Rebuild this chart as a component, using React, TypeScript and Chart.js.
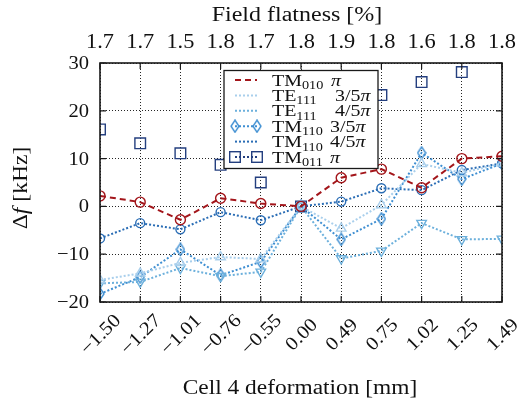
import { useEffect, useRef } from 'react';
import { Chart, registerables } from 'chart.js';
Chart.register(...registerables);

const deformation = ['−1.50', '−1.27', '−1.01', '−0.76', '−0.55', '0.00', '0.49', '0.75', '1.02', '1.25', '1.49'];
const flatness = ['1.7', '1.7', '1.5', '1.8', '1.7', '1.8', '1.9', '1.8', '1.6', '1.8', '1.8'];
const yTicks = [-20, -10, 0, 10, 20, 30];

const tm010Pi = [2.2, 0.9, -2.8, 1.7, 0.6, 0, 6.0, 7.8, 3.9, 10.0, 10.5];
const te111ThreeFifth = [-15.4, -14.0, -11.8, -10.6, -11.0, 0, -4.6, 0.3, 8.9, 7.0, 9.0];
const te111FourFifth = [-16.1, -15.8, -12.9, -14.6, -13.7, 0, -10.9, -9.3, -3.5, -6.9, -6.8];
const tm110ThreeFifth = [-18.3, -14.8, -9.0, -14.4, -11.6, 0, -6.9, -2.6, 11.2, 5.7, 9.0];
const tm110FourFifth = [-6.7, -3.5, -4.8, -1.2, -2.9, 0, 1.0, 3.8, 3.4, 7.6, 9.0];
const tm011Pi = [16.1, 13.2, 11.1, 8.7, 5.0, 0, 19.5, 23.3, 26.0, 28.1, 31.5];

const legendMain = ['TM', 'TE', 'TE', 'TM', 'TM', 'TM'];
const legendSub = ['010', '111', '111', '110', '110', '011'];
const legendFrac = ['', '3/5', '4/5', '3/5', '4/5', ''];

const RED = '#a3161b';
const TE3 = '#a9cfec';
const TE4 = '#6cb0dc';
const TM3 = '#3f8fd2';
const TM4 = '#2a6db5';
const NAVY = '#243f7f';

const SERIF = '"Liberation Serif", "DejaVu Serif", serif';
const SX = 1.14;

function makeDiamond(color: string) {
  const c = document.createElement('canvas');
  c.width = 10;
  c.height = 14;
  const g = c.getContext('2d')!;
  g.strokeStyle = color;
  g.lineWidth = 1.4;
  g.beginPath();
  g.moveTo(5, 1);
  g.lineTo(9, 7);
  g.lineTo(5, 13);
  g.lineTo(1, 7);
  g.closePath();
  g.stroke();
  return c;
}

type Part = { t: string; font: string; dy?: number; x?: number };

function partsWidth(ctx: CanvasRenderingContext2D, parts: Part[], sx: number) {
  let w = 0;
  for (const p of parts) {
    ctx.font = p.font;
    w += ctx.measureText(p.t).width * sx;
  }
  return w;
}

function drawParts(ctx: CanvasRenderingContext2D, parts: Part[], x: number, y: number, sx: number) {
  let cx = x;
  ctx.textAlign = 'left';
  for (const p of parts) {
    if (p.x !== undefined) cx = p.x;
    ctx.font = p.font;
    ctx.save();
    ctx.translate(cx, y + (p.dy || 0));
    ctx.scale(sx, 1);
    ctx.fillText(p.t, 0, 0);
    ctx.restore();
    cx += ctx.measureText(p.t).width * sx;
  }
}

function fillStretched(ctx: CanvasRenderingContext2D, t: string, x: number, y: number, sx: number) {
  ctx.save();
  ctx.translate(x, y);
  ctx.scale(sx, 1);
  ctx.fillText(t, 0, 0);
  ctx.restore();
}

export default function App() {
  const ref = useRef<HTMLCanvasElement | null>(null);

  useEffect(() => {
    if (!ref.current) return;
    const diamond = makeDiamond(TM3);

    const dotted = [2, 2];
    const base = {
      backgroundColor: 'rgba(0,0,0,0)',
      pointBackgroundColor: 'rgba(0,0,0,0)',
      borderWidth: 2,
      pointBorderWidth: 1.4,
      tension: 0,
      clip: 0,
    };

    const styles = [
      { color: RED, dash: [6, 4] },
      { color: TE3, dash: dotted },
      { color: TE4, dash: dotted },
      { color: TM3, dash: dotted, marker: 'diamond' },
      { color: TM4, dash: dotted },
      { color: NAVY, dash: dotted, marker: 'square' },
    ];

    const decor = {
      id: 'decor',
      afterDraw(chart: any) {
        const ctx: CanvasRenderingContext2D = chart.ctx;
        const { left, right, top, bottom } = chart.chartArea;
        const xs = chart.scales.x;
        const ys = chart.scales.y;
        ctx.save();
        // frame
        ctx.strokeStyle = '#1a1a1a';
        ctx.lineWidth = 1.6;
        ctx.setLineDash([]);
        ctx.strokeRect(left, top, right - left, bottom - top);
        ctx.lineWidth = 1.2;
        ctx.beginPath();
        deformation.forEach((_, i) => {
          const x = xs.getPixelForValue(i);
          ctx.moveTo(x, bottom);
          ctx.lineTo(x, bottom - 6);
          ctx.moveTo(x, top);
          ctx.lineTo(x, top + 6);
        });
        yTicks.forEach((v) => {
          const y = ys.getPixelForValue(v);
          ctx.moveTo(left, y);
          ctx.lineTo(left + 6, y);
          ctx.moveTo(right, y);
          ctx.lineTo(right - 6, y);
        });
        ctx.stroke();

        ctx.fillStyle = '#111';
        // y tick labels
        ctx.font = `19px ${SERIF}`;
        ctx.textAlign = 'right';
        ctx.textBaseline = 'middle';
        yTicks.forEach((v) => {
          const y = ys.getPixelForValue(v);
          fillStretched(ctx, v < 0 ? '−' + Math.abs(v) : String(v), left - 11, y + 1, 1.08);
        });
        // top labels
        ctx.font = `20px ${SERIF}`;
        ctx.textAlign = 'center';
        flatness.forEach((t, i) => {
          fillStretched(ctx, t, xs.getPixelForValue(i), 43, 1.12);
        });
        // bottom rotated labels
        ctx.font = `19px ${SERIF}`;
        deformation.forEach((t, i) => {
          const x = xs.getPixelForValue(i);
          ctx.save();
          ctx.translate(x + 1, 335);
          ctx.rotate(-Math.PI / 4);
          ctx.scale(1.1, 1);
          ctx.fillText(t, 0, 0);
          ctx.restore();
        });
        // titles
        ctx.font = `20px ${SERIF}`;
        fillStretched(ctx, 'Field flatness [%]', 297, 16, 1.2);
        fillStretched(ctx, 'Cell 4 deformation [mm]', 300, 389, 1.17);
        ctx.save();
        ctx.translate(22, 188);
        ctx.rotate(-Math.PI / 2);
        const yParts: Part[] = [
          { t: 'Δ', font: `20px ${SERIF}` },
          { t: 'f', font: `italic 20px ${SERIF}` },
          { t: ' [kHz]', font: `20px ${SERIF}` },
        ];
        const yw = partsWidth(ctx, yParts, 1.18);
        drawParts(ctx, yParts, -yw / 2, 0, 1.18);
        ctx.restore();

        // legend
        const bx = 224, by = 70.5, bw = 154, bh = 98;
        ctx.fillStyle = '#fff';
        ctx.fillRect(bx, by, bw, bh);
        ctx.strokeStyle = '#1a1a1a';
        ctx.lineWidth = 1.3;
        ctx.strokeRect(bx, by, bw, bh);
        const fracX = [331, 335, 335, 330, 330, 330];
        styles.forEach((s, i) => {
          const ry = 80 + i * 15.4;
          ctx.strokeStyle = s.color;
          ctx.lineWidth = 2;
          ctx.setLineDash(s.dash);
          ctx.beginPath();
          ctx.moveTo(235, ry);
          ctx.lineTo(257, ry);
          ctx.stroke();
          ctx.setLineDash([]);
          if (s.marker === 'diamond') {
            ctx.drawImage(diamond, 235 - 5, ry - 7);
            ctx.drawImage(diamond, 257 - 5, ry - 7);
          } else if (s.marker === 'square') {
            ctx.lineWidth = 1.4;
            ctx.strokeRect(235 - 5.3, ry - 5.3, 10.6, 10.6);
            ctx.strokeRect(257 - 5.3, ry - 5.3, 10.6, 10.6);
          }
          ctx.fillStyle = '#111';
          ctx.textBaseline = 'alphabetic';
          const parts: Part[] = [
            { t: legendMain[i], font: `17.5px ${SERIF}` },
            { t: legendSub[i], font: `12.5px ${SERIF}`, dy: 3.5 },
          ];
          if (legendFrac[i]) parts.push({ t: legendFrac[i], font: `17.5px ${SERIF}`, x: fracX[i] });
          parts.push({ t: 'π', font: `italic 17.5px ${SERIF}`, x: legendFrac[i] ? undefined : fracX[i] });
          drawParts(ctx, parts, 272, ry + 5.5, SX);
        });
        ctx.restore();
      },
    };

    const chart = new Chart(ref.current, {
      type: 'line',
      data: {
        labels: deformation,
        datasets: [
          { ...base, label: 'TM010 π', data: tm010Pi, borderColor: RED, pointBorderColor: RED, borderDash: [6, 4], pointStyle: 'circle', pointRadius: 5 },
          { ...base, label: 'TE111 3/5π', data: te111ThreeFifth, borderColor: TE3, pointBorderColor: TE3, borderDash: dotted, pointStyle: 'triangle', pointRadius: 5.5 },
          { ...base, label: 'TE111 4/5π', data: te111FourFifth, borderColor: TE4, pointBorderColor: TE4, borderDash: dotted, pointStyle: 'triangle', pointRotation: 180, pointRadius: 5.5 },
          { ...base, label: 'TM110 3/5π', data: tm110ThreeFifth, borderColor: TM3, pointBorderColor: TM3, borderDash: dotted, pointStyle: diamond as any, pointRadius: 6 },
          { ...base, label: 'TM110 4/5π', data: tm110FourFifth, borderColor: TM4, pointBorderColor: TM4, borderDash: dotted, pointStyle: 'circle', pointRadius: 4.5 },
          { ...base, label: 'TM011 π', data: tm011Pi, borderColor: NAVY, pointBorderColor: NAVY, showLine: false, pointStyle: 'rect', pointRadius: 7.5 },
        ] as any,
      },
      options: {
        responsive: false,
        animation: false,
        events: [],
        layout: { padding: { left: 100, right: 16, top: 63, bottom: 106 } },
        plugins: { legend: { display: false }, tooltip: { enabled: false } },
        scales: {
          x: {
            type: 'category',
            offset: false,
            grid: { color: 'rgba(0,0,0,0.85)', lineWidth: 1, drawTicks: false },
            border: { display: false, dash: [1, 2] },
            ticks: { display: false },
            afterFit: (s: any) => { s.height = 0; },
          },
          y: {
            type: 'linear',
            min: -20,
            max: 30,
            grid: { color: 'rgba(0,0,0,0.85)', lineWidth: 1, drawTicks: false },
            border: { display: false, dash: [1, 2] },
            ticks: { display: false, stepSize: 10 },
            afterFit: (s: any) => { s.width = 0; },
          },
        },
      } as any,
      plugins: [decor],
    });
    return () => chart.destroy();
  }, []);

  return (
    <div style={{ position: 'absolute', left: 0, top: 0, width: 518, height: 408, background: '#fff' }}>
      <canvas ref={ref} width={518} height={408} />
    </div>
  );
}
